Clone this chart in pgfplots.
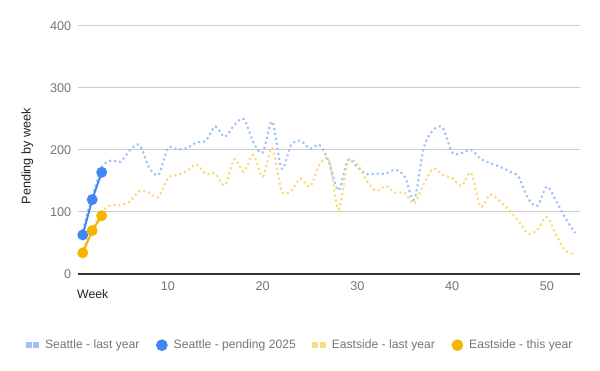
\documentclass[border=0pt]{standalone}
\usepackage{pgfplots}
\pgfplotsset{compat=1.18}
\usepackage{fontspec}
\setmainfont{Liberation Sans}
\definecolor{sea}{HTML}{4285F4}
\definecolor{east}{HTML}{F4B400}
\definecolor{sealight}{RGB}{160,194,250}
\definecolor{eastlight}{RGB}{250,218,128}
\definecolor{gridgray}{HTML}{CCCCCC}
\definecolor{ticktext}{HTML}{757575}
\definecolor{titletext}{HTML}{222222}
\definecolor{basecol}{HTML}{333333}

\pgfplotstableread{
wk val
1 70
2 125
3 172
4 183
5 181
6 200
7 208
8 172
9 160
10 203
11 201
12 203
13 212
14 215
15 238
16 221
17 240
18 250
19 213
20 196
21 246
22 170
23 208
24 215
25 202
26 208
27 180
28 135
29 184
30 172
31 161
32 162
33 162
34 168
35 157
36 120
37 203
38 232
39 236
40 196
41 195
42 200
43 186
44 179
45 173
46 166
47 157
48 122
49 110
50 141
51 117
52 89
53 66
}\seattlelast

\pgfplotstableread{
wk val
1 40
2 72
3 100
4 111
5 111
6 117
7 134
8 131
9 124
10 155
11 160
12 166
13 177
14 161
15 162
16 143
17 185
18 165
19 192
20 157
21 203
22 134
23 134
24 154
25 141
26 176
27 184
28 104
29 181
30 177
31 150
32 134
33 142
34 131
35 131
36 114
37 145
38 170
39 160
40 155
41 142
42 163
43 109
44 128
45 118
46 103
47 86
48 65
49 71
50 92
51 62
52 37
53 32
}\eastlast

\pgfplotstableread{
wk val
1 63
2 120
3 164
}\seattlenow

\pgfplotstableread{
wk val
1 34
2 70
3 94
}\eastnow

\begin{document}
\begin{tikzpicture}
\path[use as bounding box] (0,0) rectangle (450pt,278.25pt);
\begin{axis}[
  at={(58.5pt,72.75pt)}, anchor=south west,
  scale only axis, width=376.5pt, height=186pt,
  xmin=0.5, xmax=53.5, ymin=0, ymax=400,
  xtick={10,20,30,40,50},
  ytick={100,200,300,400},
  extra y ticks={0},
  extra y tick style={grid style={draw=basecol, line width=0.9pt}},
  ymajorgrids,
  grid style={draw=gridgray, line width=0.75pt},
  axis line style={draw=none},
  major tick length=0pt,
  tick style={draw=none},
  ticklabel style={font=\fontsize{9.5}{11}\selectfont, text=ticktext},
  yticklabel style={xshift=-1.5pt},
  xticklabel style={yshift=-2.5pt},
  /pgf/number format/assume math mode=true,
  legend style={
    at={(0.443,-0.287)}, anchor=center, draw=none, fill=none,
    font=\fontsize{9.1}{11}\selectfont, text=ticktext,
    legend columns=4,
    /tikz/every odd column/.append style={column sep=2.5pt},
    /tikz/every even column/.append style={column sep=10.5pt},
    inner sep=0pt,
  },
  legend cell align=left,
  clip=false,
]
\addplot[sealight, line width=1.6pt, dash pattern=on 1.6pt off 2.2pt, smooth, tension=0.5,
  legend image code/.code={\fill[sealight,solid] (0pt,-1.4pt) rectangle (2.8pt,1.4pt); \fill[sealight,solid] (5.6pt,-1.4pt) rectangle (8.4pt,1.4pt);}]
  table[x=wk,y=val]{\seattlelast};
\addlegendentry{Seattle - last year}
\addplot[sea, line width=1.5pt, mark=*, mark size=3.3pt, mark options={solid, fill=sea, draw=sea},
  legend image code/.code={\fill[sea,solid] (3.6pt,0pt) circle (3.6pt);}]
  table[x=wk,y=val]{\seattlenow};
\addlegendentry{Seattle - pending 2025}
\addplot[eastlight, line width=1.6pt, dash pattern=on 1.6pt off 2.2pt, smooth, tension=0.5,
  legend image code/.code={\fill[eastlight,solid] (0pt,-1.4pt) rectangle (2.8pt,1.4pt); \fill[eastlight,solid] (5.6pt,-1.4pt) rectangle (8.4pt,1.4pt);}]
  table[x=wk,y=val]{\eastlast};
\addlegendentry{Eastside - last year}
\addplot[east, line width=1.5pt, mark=*, mark size=3.3pt, mark options={solid, fill=east, draw=east},
  legend image code/.code={\fill[east,solid] (3.6pt,0pt) circle (3.6pt);}]
  table[x=wk,y=val]{\eastnow};
\addlegendentry{Eastside - this year}
\node[anchor=west, font=\fontsize{9.2}{11}\selectfont, text=titletext, inner sep=0pt]
  at (rel axis cs:0,0) [yshift=-15.4pt, xshift=-0.8pt] {Week};
\node[rotate=90, font=\fontsize{9.5}{11}\selectfont, text=titletext, inner sep=0pt]
  at (axis cs:-4.84,190) {Pending by week};
\end{axis}
\end{tikzpicture}
\end{document}
